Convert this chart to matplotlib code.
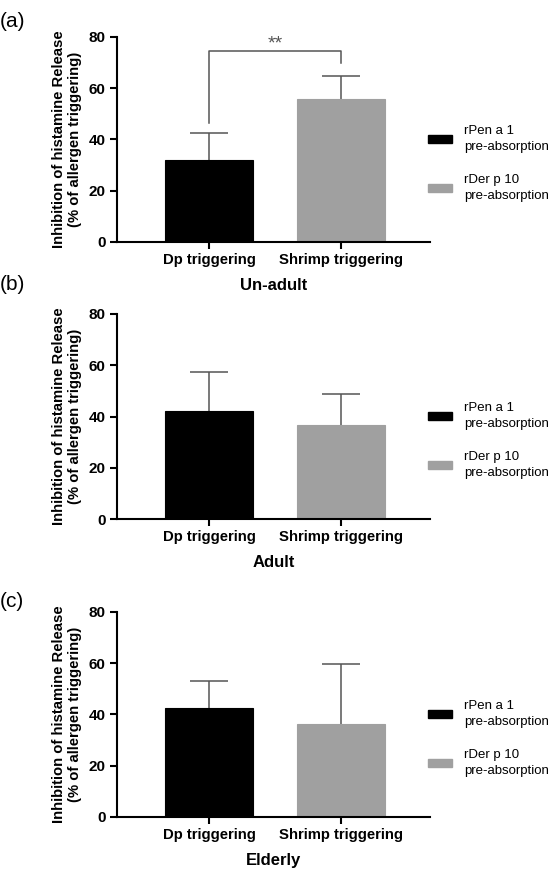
import matplotlib.pyplot as plt
from matplotlib.patches import Patch

plt.rcParams['font.family'] = ['Liberation Sans', 'DejaVu Sans']

groups = ['Dp triggering', 'Shrimp triggering']
panels = ['(a)', '(b)', '(c)']
cohorts = ['Un-adult', 'Adult', 'Elderly']
means = [[32.0, 55.8], [42.2, 36.6], [42.4, 36.3]]
sd_upper = [[10.5, 8.9], [15.2, 12.3], [10.8, 23.3]]
legend_labels = ['rPen a 1\npre-absorption', 'rDer p 10\npre-absorption']
colors = ['#000000', '#a0a0a0']

# significance bracket in panel (a)
sig_left_low, sig_top, sig_right_low = 46.4, 74.7, 69.9
sig_text = '**'

fig = plt.figure(figsize=(5.6, 8.71), dpi=100)
bottoms = [0.7222, 0.4041, 0.062]
letter_y = [0.986, 0.684, 0.32]

for i in range(3):
    ax = fig.add_axes([0.2089, bottoms[i], 0.559, 0.2354])
    x = range(len(groups))
    ax.bar(x, means[i], width=0.667, color=colors, edgecolor=colors, linewidth=0.8, zorder=2)
    eb = ax.errorbar(x, means[i], yerr=[[0, 0], sd_upper[i]], fmt='none', ecolor='#555555',
                     elinewidth=1.1, capsize=14, capthick=1.1, zorder=1)
    eb[1][0].set_visible(False)  # no cap at the bar top
    ax.set_xlim(-0.697, 1.673)
    ax.set_ylim(0, 80)
    ax.set_yticks([0, 20, 40, 60, 80])
    ax.set_xticks(list(x))
    ax.set_xticklabels(groups, fontsize=10.7, fontweight='bold')
    for lab in ax.get_yticklabels():
        lab.set_fontsize(11)
        lab.set_fontweight('bold')
    ax.spines['top'].set_visible(False)
    ax.spines['right'].set_visible(False)
    ax.spines['left'].set_linewidth(1.5)
    ax.spines['bottom'].set_linewidth(1.5)
    ax.tick_params(width=1.5, length=5, pad=3)
    ax.set_ylabel('Inhibition of histamine Release\n(% of allergen triggering)',
                  fontsize=10.7, fontweight='bold', labelpad=5, linespacing=1.15)
    ax.set_xlabel(cohorts[i], fontsize=12, fontweight='bold', labelpad=8)

    handles = [Patch(facecolor=c, edgecolor=c) for c in colors]
    leg = ax.legend(handles, legend_labels, loc='center left', bbox_to_anchor=(0.994, 0.383),
                    frameon=False, fontsize=9.5, handlelength=1.8, handleheight=0.6,
                    handletextpad=0.9, labelspacing=1.6, borderpad=0, borderaxespad=0)
    for t in leg.get_texts():
        t.set_linespacing(1.45)

    fig.text(0.0, letter_y[i], panels[i], fontsize=15, va='top', ha='left')

    if i == 0:
        ax.plot([0, 0, 1, 1], [sig_left_low, sig_top, sig_top, sig_right_low],
                color='#555555', linewidth=1.1)
        ax.text(0.5, sig_top + 0.8, sig_text, ha='center', va='baseline',
                fontsize=14, color='#555555')

fig.savefig('out.png', dpi=100)
